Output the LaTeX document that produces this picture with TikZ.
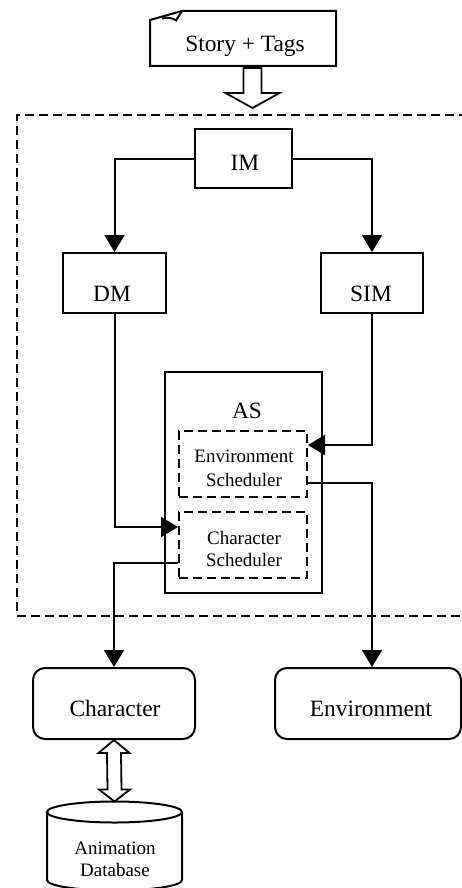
\documentclass[tikz,border=0pt]{standalone}
\usepackage{fontspec}
\setmainfont{Liberation Serif}
\usetikzlibrary{arrows.meta,calc}
\begin{document}
\begin{tikzpicture}[x=1pt,y=-1pt,
  line width=2pt,
  box/.style={draw, inner sep=0pt},
  dbox/.style={draw, dash pattern=on 9pt off 5pt, inner sep=0pt},
  rbox/.style={draw, rounded corners=12pt, inner sep=0pt},
  big/.style={font=\fontsize{23.4}{27}\selectfont, inner sep=0pt},
  small/.style={inner sep=0pt, align=center},
  flow/.style={-{Triangle[width=20pt,length=17pt]}},
  hollow/.style={draw, fill=white, line width=1.8pt, line join=miter}]

\useasboundingbox (0,0) rectangle (462,888);
\clip (0,0) rectangle (462,888);

% input document with a turned-down corner
\node (story) at (243,38.5) [minimum width=184pt, minimum height=53pt, inner sep=0pt] {};
\draw (story.south west) -- (story.south east) -- (story.north east)
      -- ([xshift=32pt]story.north west) -- ([yshift=-9pt]story.north west) -- cycle;
\draw ([xshift=32pt]story.north west) -- (176,20.5) .. controls (173,18) and (168,17) .. (162,18.5);
\node[big, anchor=base] (storytext) at (245,52) {Story + Tags};

% system boundary
\node[dbox, minimum width=458pt, minimum height=501pt] (system) at (246,365.5) {};

% hollow arrow into the system
\coordinate (storyout) at (252.5,68);
\coordinate (sysin) at (252.5,108);
\draw[hollow] ($(storyout)+(-9,0)$) -- ($(storyout)+(9,0)$) -- ($(sysin)+(9,-15)$)
  -- ($(sysin)+(27,-15)$) -- (sysin) -- ($(sysin)+(-27,-15)$) -- ($(sysin)+(-9,-15)$) -- cycle;

% managers
\node[box, minimum width=97pt, minimum height=59pt] (im) at (243.5,158.5) {};
\node[big, anchor=base] (imtext) at (245,170) {IM};
\node[box, minimum width=103pt, minimum height=60pt] (dm) at (114.5,283) {};
\node[big, anchor=base] (dmtext) at (112,301) {DM};
\node[box, minimum width=102pt, minimum height=60pt] (sim) at (372,283) {};
\node[big, anchor=base] (simtext) at (371,301) {SIM};

% animation scheduler
\node[box, minimum width=157pt, minimum height=221pt] (as) at (243.5,482.5) {};
\node[big, anchor=base] (astext) at (247,418) {AS};
\node[dbox, minimum width=128pt, minimum height=66pt] (envsch) at (243,464) {};
\node[small, font=\fontsize{19}{24}\selectfont] (envschtext) at (244,468) {Environment\\Scheduler};
\node[dbox, minimum width=128pt, minimum height=66pt] (charsch) at (243,545) {};
\node[small, font=\fontsize{19}{22}\selectfont] (charschtext) at (244,549) {Character\\Scheduler};

% outputs
\node[rbox, minimum width=162pt, minimum height=71pt] (character) at (114,703.5) {};
\node[big, anchor=base] (charactertext) at (115,716) {Character};
\node[rbox, minimum width=186pt, minimum height=71pt] (environment) at (368,703.5) {};
\node[big, anchor=base] (environmenttext) at (371,716) {Environment};

% animation database (cylinder)
\coordinate (db) at (114.5,801.5);
\draw (114.5,812) ellipse [x radius=67.5pt, y radius=10.5pt];
\draw (47,812) -- (47,880) arc[start angle=180, end angle=360, x radius=67.5pt, y radius=10.5pt] -- (182,812);
\node[small, font=\fontsize{19}{22}\selectfont] (dbtext) at (115,859) {Animation\\Database};

% connectors
\draw[flow] (im.west) -| (dm.north);
\draw[flow] (im.east) -| (sim.north);
\draw[flow] (dm.south) |- ([yshift=18pt]charsch.west);
\draw[flow] (sim.south) |- ([yshift=19pt]envsch.east);
\draw[flow] ([yshift=-18pt]charsch.west) -| (character.north);
\draw[flow] ([yshift=-19pt]envsch.east) -| (sim.south |- environment.north);

% two-way hollow arrow between character and database
\draw[hollow] (character.south) -- ($(character.south)+(15.5,13)$) -- ($(character.south)+(7,13)$)
  -- ($(db)+(7,-12)$) -- ($(db)+(15.5,-12)$) -- (db) -- ($(db)+(-15.5,-12)$) -- ($(db)+(-7,-12)$)
  -- ($(character.south)+(-7,13)$) -- ($(character.south)+(-15.5,13)$) -- cycle;
\end{tikzpicture}
\end{document}
